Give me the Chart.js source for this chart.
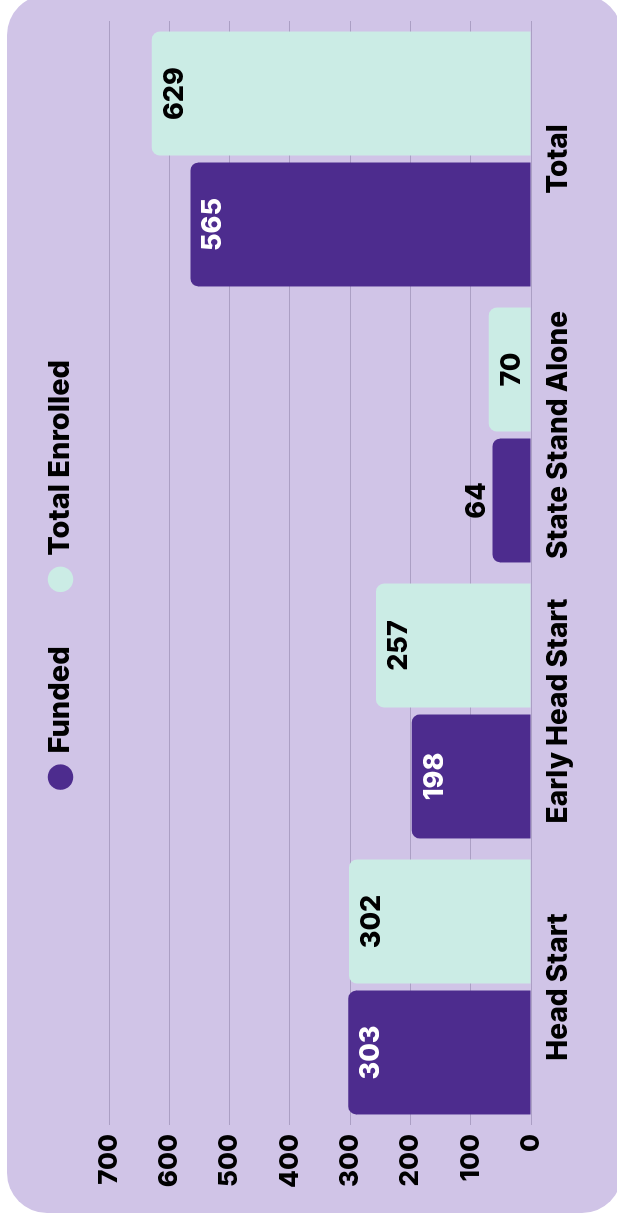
<!DOCTYPE html>
<html><head><meta charset="utf-8">
<script src="https://cdn.jsdelivr.net/npm/chart.js@4.4.1/dist/chart.umd.min.js"></script>
<style>
html,body{margin:0;padding:0;background:#fff;width:617px;height:1222px;overflow:hidden;}
#card{position:absolute;left:7px;top:-5px;width:615px;height:1218px;border-radius:40px;background:#d0c4e7;}
#wrap{position:absolute;left:0;top:0;width:1222px;height:617px;transform-origin:0 0;transform:translate(0,1222px) rotate(-90deg);}
canvas{display:block}
</style></head>
<body><div id="card"></div><div id="wrap"><canvas id="c" width="1222" height="617"></canvas></div>
<script>
const categories = ['Head Start', 'Early Head Start', 'State Stand Alone', 'Total'];
const seriesNames = ['Funded', 'Total Enrolled'];
const funded = [303, 198, 64, 565];
const enrolled = [302, 257, 70, 629];
const yTickValues = [0, 100, 200, 300, 400, 500, 600, 700];

const PURPLE = '#4d2c8e';
const TEAL = '#cbece5';
const FONT = 'Inter, "Open Sans", sans-serif';

const legendHeight = {
  id: 'legendHeight',
  beforeInit(chart) {
    if (!chart.legend) return;
    const fit = chart.legend.fit;
    chart.legend.fit = function () { fit.call(this); this.height = 121; };
  }
};

const valueLabels = {
  id: 'valueLabels',
  afterDatasetsDraw(chart) {
    const ctx = chart.ctx;
    chart.data.datasets.forEach((ds, di) => {
      const meta = chart.getDatasetMeta(di);
      meta.data.forEach((bar, i) => {
        const v = ds.data[i];
        const h = bar.base - bar.y;
        const inside = h > 40;
        ctx.save();
        ctx.font = '800 27px ' + FONT;
        ctx.textAlign = 'center';
        ctx.textBaseline = 'alphabetic';
        ctx.fillStyle = inside ? (di === 0 ? '#ffffff' : '#000000') : '#000000';
        const y = inside ? bar.y + 31 : bar.y - 7;
        ctx.fillText(String(v), bar.x, y);
        ctx.restore();
      });
    });
  }
};

new Chart(document.getElementById('c'), {
  type: 'bar',
  data: {
    labels: categories,
    datasets: [
      { label: seriesNames[0], data: funded, backgroundColor: PURPLE, borderRadius: 8, borderSkipped: 'start' },
      { label: seriesNames[1], data: enrolled, backgroundColor: TEAL, borderRadius: 8, borderSkipped: 'start' }
    ]
  },
  options: {
    responsive: false,
    animation: false,
    events: [],
    layout: { padding: { left: 0, right: 21, top: -12, bottom: 0 } },
    categoryPercentage: 0.949,
    barPercentage: 0.9466,
    plugins: {
      tooltip: { enabled: false },
      legend: {
        position: 'top',
        fullSize: false,
        labels: {
          usePointStyle: true,
          pointStyle: 'circle',
          boxWidth: 18,
          boxHeight: 18,
          padding: 58,
          color: '#000',
          font: { family: FONT, size: 29, weight: '800' }
        }
      }
    },
    scales: {
      x: {
        grid: { display: false, drawTicks: false },
        border: { display: false },
        ticks: { color: '#000', padding: 11, maxRotation: 0, autoSkip: false, font: { family: FONT, size: 28, weight: '800' } },
        afterFit(s) { s.height = 86; }
      },
      y: {
        min: 0, max: 700,
        afterBuildTicks(s) { s.ticks = yTickValues.map(v => ({ value: v })); },
        grid: { color: '#ab9fc4', lineWidth: 1, drawTicks: false },
        border: { display: false },
        ticks: { color: '#000', padding: 9, font: { family: FONT, size: 26, weight: '800' } },
        afterFit(s) { s.width = 97; }
      }
    }
  },
  plugins: [legendHeight, valueLabels]
});
</script>
</body></html>
